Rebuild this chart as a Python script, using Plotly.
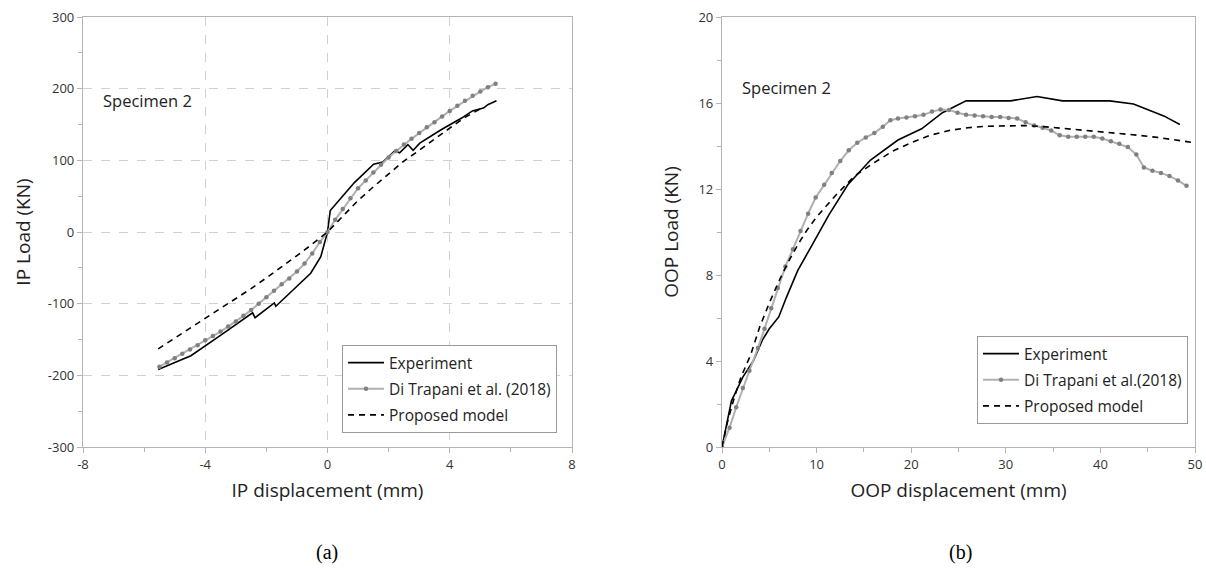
import plotly.graph_objects as go

# ---------------- (a) In-plane ----------------
ip_exp_x = [-5.54, -4.47, -3.49, -2.45, -2.37, -1.74, -1.69, -0.55, -0.22, -0.09, 0.0,
            0.09, 0.44, 0.88, 1.51, 1.81, 2.2, 2.36, 2.63, 2.8, 3.02, 3.73, 4.39, 4.74, 5.1, 5.26, 5.53]
ip_exp_y = [-192, -172.6, -144, -112.7, -119.6, -99, -103.6, -57.5, -34.5, -16, 0,
            30, 47.5, 69, 94.5, 97.7, 113, 110.6, 122, 114, 124, 143, 159, 169, 173, 178, 183]

ip_dt_x = [-5.5, -5.25, -5.0, -4.75, -4.5, -4.25, -4.0, -3.75, -3.5, -3.25, -3.0, -2.75,
           -2.5, -2.25, -2.0, -1.75, -1.5, -1.25, -1.0, -0.75, -0.5, -0.25, 0.0,
           0.25, 0.5, 0.75, 1.0, 1.25, 1.5, 1.75, 2.0, 2.25, 2.5, 2.75, 3.0, 3.25,
           3.5, 3.75, 4.0, 4.25, 4.5, 4.75, 5.0, 5.25, 5.5]
ip_dt_y = [-188, -182, -176, -170, -164, -158, -151, -145, -139, -132, -125, -117,
           -109, -100, -91, -82, -73, -65, -55, -44, -30, -14, 0,
           17, 32, 47, 61, 72, 83, 94, 104, 113, 122, 130, 138, 146,
           153, 161, 169, 176, 183, 190, 196, 202, 207]

ip_pm_x = [-5.54, -5.0, -4.5, -4.0, -3.5, -3.0, -2.5, -2.0, -1.5, -1.0, -0.5, 0.0,
           0.5, 1.0, 1.5, 2.0, 2.5, 3.0, 3.5, 4.0, 4.5, 5.05]
ip_pm_y = [-163, -148, -134, -120, -107, -93, -79, -64, -49, -33, -17, 0,
           22, 44, 63, 81, 99, 114, 130, 145, 160, 173]

ip_xticks = [-8, -4, 0, 4, 8]
ip_yticks = [-300, -200, -100, 0, 100, 200, 300]

# ---------------- (b) Out-of-plane ----------------
oop_exp_x = [0, 0.45, 1.0, 1.5, 2.2, 3.3, 4.3, 5.0, 6.0, 6.8, 8.0, 9.4, 11.3, 13.3, 15.7,
             18.6, 21.1, 23.3, 25.8, 30.5, 33.3, 36.0, 41.0, 43.5, 46.7, 48.4]
oop_exp_y = [0, 0.95, 2.15, 2.6, 3.25, 4.0, 5.0, 5.5, 6.05, 6.95, 8.2, 9.3, 10.8, 12.2, 13.35,
             14.28, 14.8, 15.55, 16.1, 16.1, 16.3, 16.1, 16.1, 15.95, 15.4, 15.0]

oop_dt_x = [0, 0.8, 1.5, 2.2, 2.9, 3.8, 4.5, 5.2, 5.9, 6.7, 7.5, 8.3, 9.1, 9.9, 10.8, 11.6,
            12.5, 13.4, 14.3, 15.2, 16.1, 17.0, 17.8, 18.6, 19.5, 20.4, 21.3, 22.2, 23.1,
            24.0, 24.9, 25.8, 26.7, 27.6, 28.5, 29.4, 30.3, 31.2, 32.1, 33.0, 33.9, 34.8,
            35.7, 36.6, 37.5, 38.4, 39.3, 40.2, 41.1, 42.0, 42.9, 43.8, 44.6, 45.5, 46.4,
            47.3, 48.2, 49.1]
oop_dt_y = [0, 0.9, 1.85, 2.75, 3.55, 4.6, 5.5, 6.45, 7.4, 8.4, 9.2, 10.05, 10.85, 11.6, 12.2,
            12.75, 13.3, 13.8, 14.15, 14.4, 14.6, 14.9, 15.2, 15.28, 15.32, 15.38, 15.45, 15.6,
            15.7, 15.68, 15.55, 15.45, 15.42, 15.38, 15.35, 15.35, 15.3, 15.28, 15.1, 14.95,
            14.85, 14.72, 14.5, 14.43, 14.43, 14.43, 14.43, 14.35, 14.22, 14.1, 13.95, 13.6,
            13.0, 12.85, 12.75, 12.6, 12.4, 12.15]

oop_pm_x = [0, 0.6, 1.3, 2.0, 3.0, 4.0, 5.0, 6.0, 7.0, 8.0, 9.0, 10.0, 12.0, 14.0, 16.0,
            18.0, 20.0, 22.0, 24.0, 26.0, 28.0, 30.0, 32.0, 34.0, 36.0, 38.0, 40.0, 42.0,
            44.0, 46.0, 48.0, 50.0]
oop_pm_y = [0, 1.2, 2.3, 3.25, 4.25, 5.6, 6.7, 7.7, 8.6, 9.4, 10.1, 10.7, 11.7, 12.6, 13.2,
            13.75, 14.15, 14.5, 14.72, 14.85, 14.92, 14.95, 14.95, 14.9, 14.82, 14.75, 14.68,
            14.6, 14.5, 14.4, 14.28, 14.15]

oop_xticks = [0, 10, 20, 30, 40, 50]
oop_yticks = [0, 4, 8, 12, 16, 20]

FONT = "Open Sans"
GRAY_LINE = "#b0b0b0"
DOT = "#808080"
AX = "#b4b4b4"

fig = go.Figure()

def add_set(xa, ya, ex, ey, dx, dy, px, py, legend, dt_name):
    fig.add_trace(go.Scatter(x=ex, y=ey, mode="lines", name="Experiment",
                             line=dict(color="black", width=1.6),
                             xaxis=xa, yaxis=ya, legend=legend, legendgroup=legend + "a"))
    fig.add_trace(go.Scatter(x=dx, y=dy, mode="lines+markers", name=dt_name,
                             line=dict(color=GRAY_LINE, width=2),
                             marker=dict(color=DOT, size=4.5),
                             xaxis=xa, yaxis=ya, legend=legend, legendgroup=legend + "b"))
    fig.add_trace(go.Scatter(x=px, y=py, mode="lines", name="Proposed model",
                             line=dict(color="black", width=1.6, dash="6px,5px"),
                             xaxis=xa, yaxis=ya, legend=legend, legendgroup=legend + "c"))

add_set("x", "y", ip_exp_x, ip_exp_y, ip_dt_x, ip_dt_y, ip_pm_x, ip_pm_y,
        "legend", "Di Trapani et al. (2018)")
add_set("x2", "y2", oop_exp_x, oop_exp_y, oop_dt_x, oop_dt_y, oop_pm_x, oop_pm_y,
        "legend2", "Di Trapani et al.(2018)")

W, H = 1206, 574
def px_x(p): return p / W
def px_y(p): return 1 - p / H

def lab(v): return str(v)  # plain hyphen-minus as in the reference

tickfont = dict(family=FONT, size=13, color="#333333")
titlefont = dict(family=FONT, size=19, color="#222222")

common = dict(showline=True, linecolor=AX, linewidth=1.2, mirror=True,
              ticks="outside", ticklen=5, tickcolor=AX, tickfont=tickfont,
              zeroline=False, automargin=False)

fig.update_layout(
    width=W, height=H,
    margin=dict(l=0, r=0, t=0, b=0),
    paper_bgcolor="white", plot_bgcolor="white",
    showlegend=True,
    xaxis=dict(domain=[px_x(83), px_x(572)], range=[-8, 8],
               tickvals=ip_xticks, ticktext=[lab(v) for v in ip_xticks],
               showgrid=True, gridcolor="#d0d0d0", griddash="dash", gridwidth=1,
               minor=dict(ticks="outside", ticklen=4, tickcolor=AX, dtick=2, tick0=0, showgrid=False),
               title=dict(text="IP displacement (mm)", font=titlefont, standoff=11),
               anchor="y", **common),
    yaxis=dict(domain=[px_y(447), px_y(17)], range=[-300, 300],
               tickvals=ip_yticks, ticktext=[lab(v) for v in ip_yticks],
               showgrid=True, gridcolor="#d0d0d0", griddash="dash", gridwidth=1,
               minor=dict(ticks="outside", ticklen=4, tickcolor=AX, dtick=50, tick0=0, showgrid=False),
               title=dict(text="IP Load (KN)", font=titlefont, standoff=12),
               anchor="x", **common),
    xaxis2=dict(domain=[px_x(722), px_x(1195)], range=[0, 50],
                tickvals=oop_xticks, ticktext=[lab(v) for v in oop_xticks],
                showgrid=False,
                minor=dict(ticks="outside", ticklen=4, tickcolor=AX, dtick=5, tick0=0, showgrid=False),
                title=dict(text="OOP displacement (mm)", font=titlefont, standoff=11),
                anchor="y2", **common),
    yaxis2=dict(domain=[px_y(447), px_y(17)], range=[0, 20],
                tickvals=oop_yticks, ticktext=[lab(v) for v in oop_yticks],
                showgrid=False,
                minor=dict(ticks="outside", ticklen=4, tickcolor=AX, dtick=2, tick0=0, showgrid=False),
                title=dict(text="OOP Load (KN)", font=titlefont, standoff=14),
                anchor="x2", **common),
    legend=dict(x=px_x(342), y=px_y(345), xanchor="left", yanchor="top",
                bordercolor="#9a9a9a", borderwidth=1, bgcolor="white",
                font=dict(family=FONT, size=15.5, color="#222222"),
                traceorder="grouped", tracegroupgap=3, itemwidth=36),
    legend2=dict(x=px_x(977), y=px_y(336), xanchor="left", yanchor="top",
                 bordercolor="#9a9a9a", borderwidth=1, bgcolor="white",
                 font=dict(family=FONT, size=15.5, color="#222222"),
                 traceorder="grouped", tracegroupgap=3, itemwidth=36),
    annotations=[
        dict(text="Specimen 2", x=px_x(101), y=px_y(100), xref="paper", yref="paper",
             xanchor="left", yanchor="middle", showarrow=False,
             font=dict(family=FONT, size=16.5, color="#222222")),
        dict(text="Specimen 2", x=px_x(740), y=px_y(88), xref="paper", yref="paper",
             xanchor="left", yanchor="middle", showarrow=False,
             font=dict(family=FONT, size=16.5, color="#222222")),
        dict(text="(a)", x=px_x(327), y=px_y(552), xref="paper", yref="paper",
             xanchor="center", yanchor="middle", showarrow=False,
             font=dict(family="Liberation Serif", size=20, color="black")),
        dict(text="(b)", x=px_x(960), y=px_y(552), xref="paper", yref="paper",
             xanchor="center", yanchor="middle", showarrow=False,
             font=dict(family="Liberation Serif", size=20, color="black")),
    ],
)

fig.write_html("out.html")
